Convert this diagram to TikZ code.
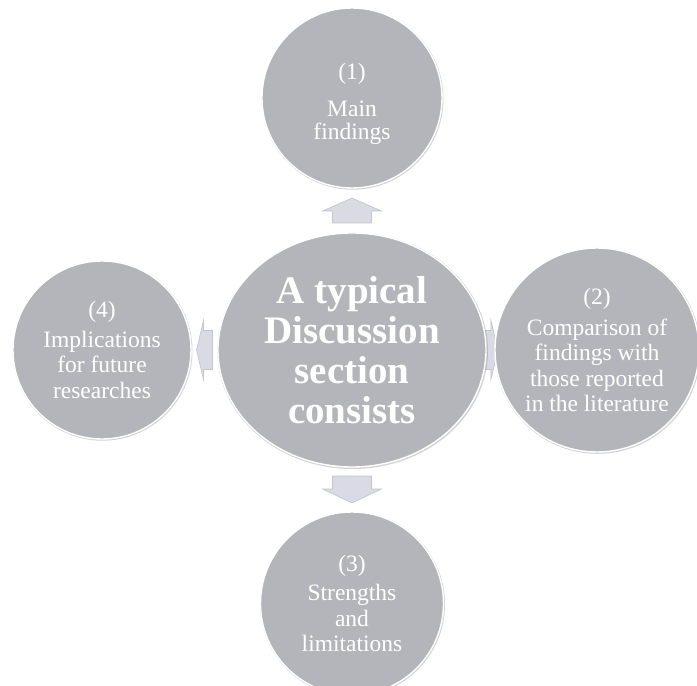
\documentclass[tikz,border=0pt]{standalone}
\usepackage{fontspec}
\setmainfont{Liberation Serif}
\usepackage{xcolor}
\usetikzlibrary{positioning,calc,shapes.geometric,shadows,backgrounds}

\definecolor{discin}{RGB}{180,181,186}
\definecolor{discout}{RGB}{160,161,167}
\definecolor{arrfill}{RGB}{218,218,228}
\definecolor{arredge}{RGB}{196,196,206}

\pgfdeclareradialshading{discshade}{\pgfpoint{0bp}{0bp}}{%
  color(0bp)=(discin); color(30bp)=(discin); color(50bp)=(discout); color(100bp)=(discout)}

% fat arrow centred between two anchors: from, to, angle, shaft length, head length
\newcommand{\blockarrow}[5]{%
  \begin{scope}[shift={($(#1)!0.5!(#2)$)},rotate=#3]
    \filldraw[blockarr] ({-(#4+#5)/2},-19.5) -- ++(#4,0) -- ++(0,-10)
      -- ({(#4+#5)/2},0) -- ({#4-(#4+#5)/2},29.5) -- ++(0,-10)
      -- ({-(#4+#5)/2},19.5) -- cycle;
  \end{scope}}

\begin{document}
\begin{tikzpicture}[
  x=1pt,y=1pt,
  disc/.style={circle,draw=white,line width=1.4pt,shading=discshade,
    inner sep=0pt,outer sep=0pt,align=center,text=white,
    font=\fontsize{23.5}{25.5}\selectfont,
    drop shadow={shadow xshift=0.6pt,shadow yshift=-0.8pt,opacity=0.35,shadow scale=1.01}},
  core/.style={disc,ellipse,minimum width=268pt,minimum height=234pt,
    font=\bfseries\fontsize{39}{40}\selectfont},
  blockarr/.style={fill=arrfill,draw=arredge,line width=0.6pt},
]
\useasboundingbox (-352,-336) rectangle (345,350);

\node[core] (core) at (0,0) {A typical\\Discussion\\section\\consists};
\node[disc,minimum size=180pt,above=45pt of core] (main)
  {\rule{0pt}{29pt}(1)\\[11pt]Main\\[-2pt]findings};
\node[disc,minimum size=204pt,right=9pt of core] (compare)
  {(2)\\[5pt]Comparison of\\findings with\\those reported\\in the literature};
\node[disc,minimum size=183pt,below=45pt of core] (limits)
  {(3)\\[4pt]Strengths\\and\\limitations};
\node[disc,minimum size=178pt,left=27pt of core] (future)
  {(4)\\[4pt]Implications\\for future\\researches};

% arrows sit behind the discs
\begin{scope}[on background layer]
\blockarrow{core.north}{main.south}{90}{12}{13}
\blockarrow{core.east}{compare.west}{0}{8}{7}
\blockarrow{core.south}{limits.north}{-90}{13}{14}
\blockarrow{core.west}{future.east}{180}{9}{7}
\end{scope}
\end{tikzpicture}
\end{document}
